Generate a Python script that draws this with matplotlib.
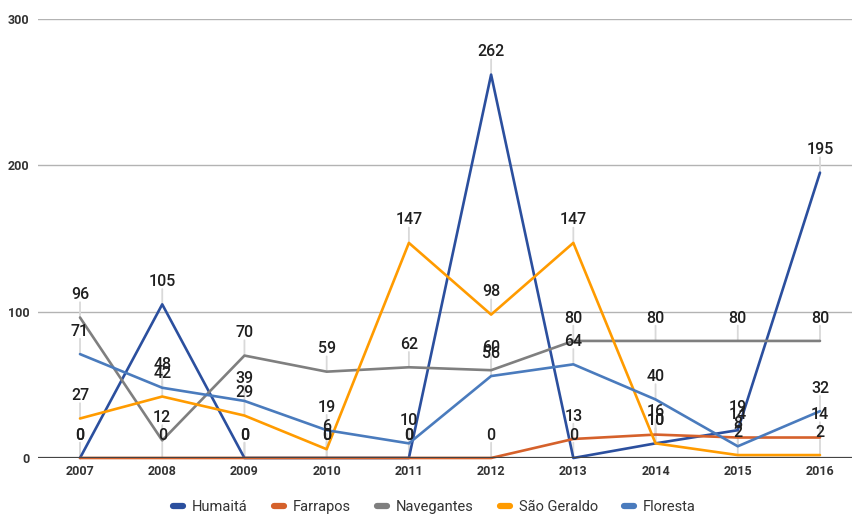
import matplotlib
matplotlib.use("Agg")
import matplotlib.pyplot as plt

years = [2007, 2008, 2009, 2010, 2011, 2012, 2013, 2014, 2015, 2016]
series_names = ["Humaitá", "Farrapos", "Navegantes", "São Geraldo", "Floresta"]
humaita = [0, 105, 0, 0, 0, 262, 0, 10, 19, 195]
farrapos = [0, 0, 0, 0, 0, 0, 13, 16, 14, 14]
navegantes = [96, 12, 70, 59, 62, 60, 80, 80, 80, 80]
sao_geraldo = [27, 42, 29, 6, 147, 98, 147, 10, 2, 2]
floresta = [71, 48, 39, 19, 10, 56, 64, 40, 8, 32]
colors = ["#2b4f9e", "#d5612b", "#7f7f7f", "#ff9b00", "#4a7bbd"]
y_ticks = [0, 100, 200, 300]

plt.rcParams['font.family'] = ['Roboto', 'DejaVu Sans']

fig = plt.figure(figsize=(8.55, 5.16), dpi=100)
ax = fig.add_axes([38/855, 58/516, (852-38)/855, (458-19)/516])
x_left = 2007 - 42/82.2
x_right = 2016 + 32/82.2
ax.set_xlim(x_left, x_right)
ax.set_ylim(0, 300)

for yv in y_ticks[1:]:
    ax.axhline(yv, color="#b3b3b3", lw=1.0, zorder=0)
ax.axhline(0, color="#444444", lw=1.6, zorder=6)

data = [humaita, farrapos, navegantes, sao_geraldo, floresta]
for i, (name, vals) in enumerate(zip(series_names, data)):
    ax.plot(years, vals, color=colors[i], lw=1.9, label=name, zorder=3 + i * 0.1,
            solid_capstyle='round', clip_on=False)
    for x, v in zip(years, vals):
        ax.annotate('', xy=(x, v), xytext=(0, 11), textcoords='offset points',
                    arrowprops=dict(arrowstyle='-', color='#d9d9d9', lw=1.3,
                                    shrinkA=0, shrinkB=0), zorder=1)
        ax.annotate(str(v), xy=(x, v), xytext=(0, 16.5), textcoords='offset points',
                    ha='center', va='center', fontsize=11.5, color='#1f1f1f',
                    fontweight='medium', zorder=8)

for s in ax.spines.values():
    s.set_visible(False)
ax.set_xticks(years)
ax.set_xticklabels([str(y) for y in years], fontsize=9, color='#333333', fontweight='bold')
ax.set_yticks(y_ticks)
ax.set_yticklabels([str(y) for y in y_ticks], fontsize=9, color='#333333', fontweight='bold')
ax.tick_params(axis='both', length=0)
ax.tick_params(axis='x', pad=5)
ax.tick_params(axis='y', pad=6)

leg = fig.legend(loc='center', bbox_to_anchor=(0.508, 9/516), ncol=5, frameon=False,
                 fontsize=10.5, handlelength=0.7, handletextpad=0.6, columnspacing=1.8)
for h in leg.get_lines():
    h.set_linewidth(4.5)
    h.set_solid_capstyle('round')
for t in leg.get_texts():
    t.set_color('#333333')

fig.savefig("out.png", dpi=100)
